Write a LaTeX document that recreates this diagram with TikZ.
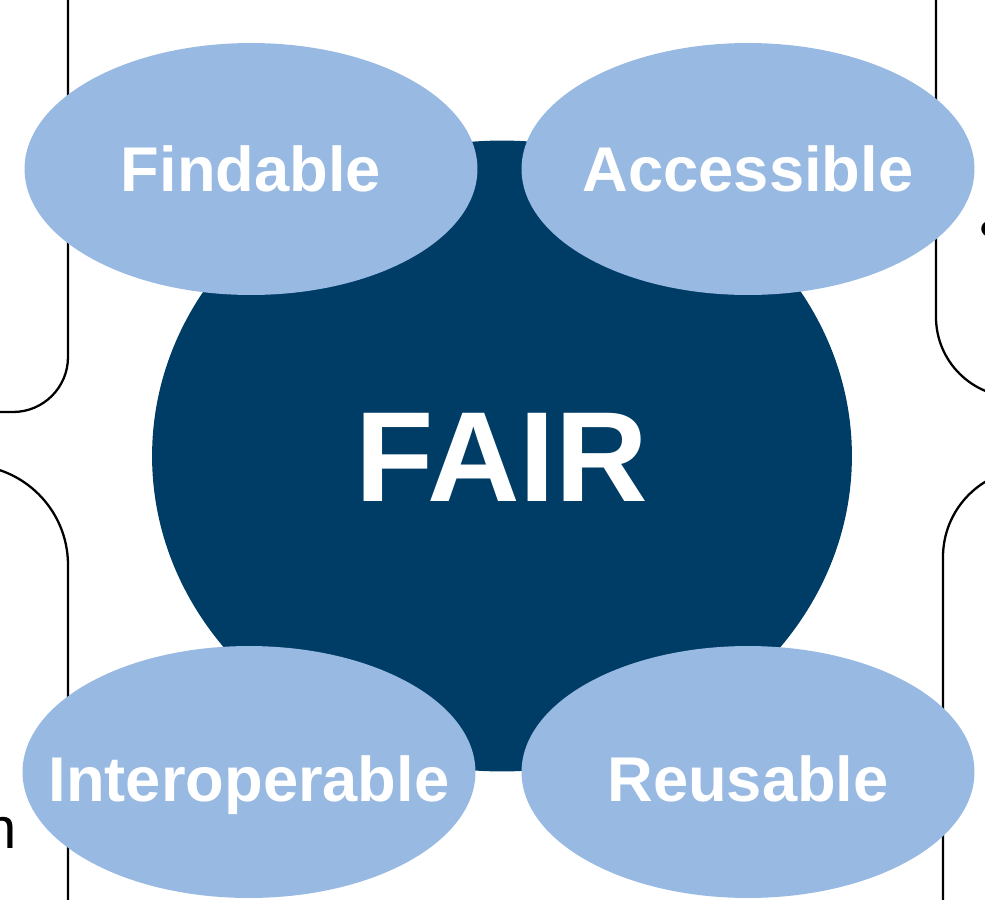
\documentclass[tikz,border=0pt]{standalone}
\usepackage{fontspec}
\setmainfont{Liberation Sans}
\usetikzlibrary{shapes.geometric}

\definecolor{fairdark}{RGB}{0,61,102}
\definecolor{fairlight}{RGB}{152,185,226}

\tikzset{
  petal/.style={ellipse, fill=fairlight, minimum width=9.06cm, minimum height=5.04cm,
    inner xsep=-3cm, inner ysep=0pt, text=white, font=\bfseries\fontsize{36}{36}\selectfont,
    text height=25.8pt, text depth=0pt},
  core/.style={ellipse, fill=fairdark, minimum width=14cm, minimum height=12.62cm,
    inner sep=0pt, text=white, font=\bfseries\fontsize{73}{73}\selectfont,
    text height=52.3pt, text depth=0pt},
  frame/.style={line width=1.3pt, rounded corners=#1},
  tail/.style={inner sep=0pt, font=\fontsize{33}{33}\selectfont}
}

\begin{document}
\begin{tikzpicture}[x=0.02cm, y=-0.02cm]
        \useasboundingbox (0,0) rectangle (985,900);
        \clip (0,0) rectangle (985,900);

        % boxes at the sides
        \draw[frame=1.1cm] (-300,-100) -- (68,-100) -- (68,412) -- (-300,412);
        \draw[frame=2cm] (-300,465) -- (68,465) -- (68,1100) -- (-300,1100);
        \draw[frame=1.6cm] (1300,-100) -- (936,-100) -- (936,397) -- (1300,397);
        \draw[frame=1.76cm] (1300,469) -- (943,469) -- (943,1100) -- (1300,1100);

        \node[tail, anchor=base east] (tailn) at (17,848) {n};
        \node[tail, anchor=base west] (taildot) at (979,248) {•};

        \node[core] (fair) at (502,456) {FAIR};

        \node[petal] (find) at (251,169) {Findable};
        \node[petal] (access) at (748,169) {Accessible};
        \node[petal, text height=34pt] (inter) at (249,772) {Interoperable};
        \node[petal, text height=34pt] (reuse) at (748,772) {Reusable};
\end{tikzpicture}
\end{document}
